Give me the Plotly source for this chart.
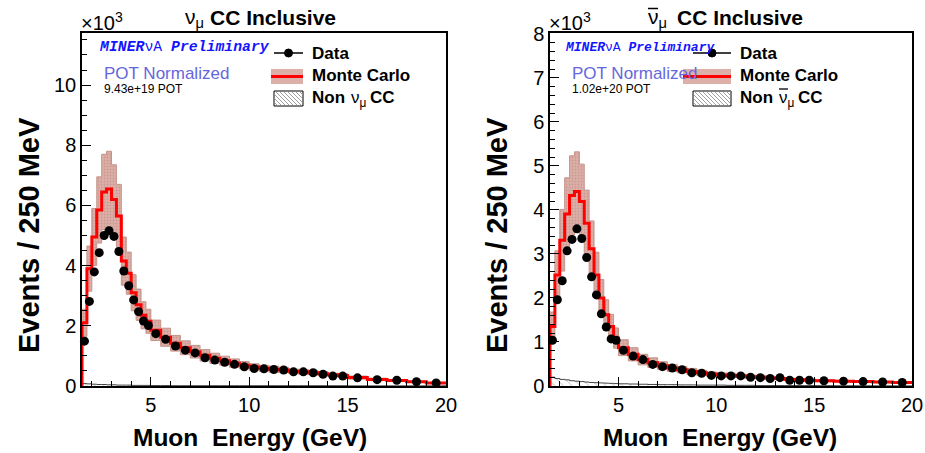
import plotly.graph_objects as go
import numpy as np

W, H = 925, 453
ML, MR, MT, MB = 20, 12, 20, 20   # fixed margins; all positions below are given in page pixels

# ---------------- data (values in units of 10^3 events / 250 MeV) ----------------
bin_edges = [1.5, 1.75, 2.0, 2.25, 2.5, 2.75, 3.0, 3.25, 3.5, 3.75, 4.0, 4.25, 4.5, 4.75, 5.0,
             5.5, 6.0, 6.5, 7.0, 7.5, 8.0, 8.5, 9.0, 9.5, 10.0, 10.5, 11.0, 11.5, 12.0, 12.5,
             13.0, 13.5, 14.0, 14.5, 15.0, 16.0, 17.0, 18.0, 19.0, 20.0]

data_nu = [1.49, 2.81, 3.79, 4.43, 5.00, 5.16, 4.97, 4.47, 3.82, 3.33, 2.86, 2.47, 2.16, 2.01,
           1.74, 1.55, 1.33, 1.19, 1.10, 0.94, 0.86, 0.79, 0.72, 0.64, 0.58, 0.57, 0.55, 0.53,
           0.47, 0.47, 0.44, 0.39, 0.33, 0.33, 0.27, 0.21, 0.19, 0.14, 0.10]
mc_nu = [2.10, 3.90, 4.95, 5.85, 6.45, 6.55, 6.20, 5.65, 4.15, 3.75, 3.10, 2.70, 2.35, 2.15,
         1.85, 1.62, 1.42, 1.27, 1.14, 1.02, 0.92, 0.84, 0.76, 0.69, 0.63, 0.59, 0.56, 0.53,
         0.49, 0.47, 0.44, 0.41, 0.37, 0.35, 0.28, 0.22, 0.18, 0.14, 0.10]
mc_err_nu = [0.45, 0.75, 0.95, 1.10, 1.25, 1.25, 1.15, 1.05, 0.80, 0.70, 0.60, 0.52, 0.45, 0.40,
             0.34, 0.30, 0.26, 0.23, 0.21, 0.19, 0.17, 0.15, 0.14, 0.12, 0.11, 0.10, 0.10, 0.09,
             0.08, 0.08, 0.07, 0.07, 0.06, 0.06, 0.05, 0.04, 0.03, 0.02, 0.02]
bkg_nu = [0.08, 0.07, 0.06, 0.05, 0.05, 0.04, 0.04, 0.03, 0.03, 0.03, 0.02, 0.02, 0.02, 0.02,
          0.015, 0.015, 0.01, 0.01, 0.01, 0.01, 0.01, 0.01, 0.01, 0.01, 0.01, 0.01, 0.01, 0.01,
          0.01, 0.01, 0.01, 0.01, 0.01, 0.01, 0.005, 0.005, 0.005, 0.005, 0.005]

data_nub = [1.04, 1.96, 2.39, 3.07, 3.33, 3.57, 3.35, 2.92, 2.48, 2.07, 1.64, 1.34, 1.07, 1.04,
            0.81, 0.68, 0.60, 0.49, 0.44, 0.41, 0.37, 0.30, 0.29, 0.24, 0.23, 0.23, 0.23, 0.20,
            0.19, 0.17, 0.19, 0.13, 0.13, 0.13, 0.12, 0.11, 0.10, 0.09, 0.08]
mc_nub = [1.35, 2.52, 3.31, 3.91, 4.33, 4.42, 4.19, 3.70, 3.12, 2.52, 2.00, 1.62, 1.35, 1.09,
          0.87, 0.72, 0.60, 0.53, 0.46, 0.41, 0.37, 0.33, 0.30, 0.27, 0.25, 0.24, 0.23, 0.21,
          0.20, 0.18, 0.17, 0.15, 0.14, 0.13, 0.12, 0.11, 0.10, 0.09, 0.08]
mc_err_nub = [0.33, 0.55, 0.70, 0.82, 0.90, 0.90, 0.85, 0.75, 0.63, 0.52, 0.42, 0.34, 0.28, 0.23,
              0.18, 0.15, 0.12, 0.11, 0.09, 0.08, 0.07, 0.07, 0.06, 0.05, 0.05, 0.05, 0.04, 0.04,
              0.04, 0.03, 0.03, 0.03, 0.03, 0.02, 0.02, 0.02, 0.02, 0.01, 0.01]
bkg_nub = [0.20, 0.17, 0.15, 0.14, 0.12, 0.11, 0.10, 0.09, 0.08, 0.075, 0.07, 0.065, 0.06, 0.055,
           0.05, 0.045, 0.04, 0.035, 0.03, 0.03, 0.025, 0.025, 0.02, 0.02, 0.02, 0.015, 0.015, 0.015,
           0.01, 0.01, 0.01, 0.01, 0.01, 0.01, 0.008, 0.006, 0.005, 0.004, 0.003]

panels = [
    dict(data=data_nu, mc=mc_nu, err=mc_err_nu, bkg=bkg_nu, ymax=11.73, dtick=2, minor=0.5,
         xpx=(82, 446), pot="9.43e+19 POT", bar=False,
         nu_x=183, cc_x=208, xt_center=250, mn_size=14.8, mn_x=97,
         leg=dict(l0=274, l1=303, mc0=271, tx=310)),
    dict(data=data_nub, mc=mc_nub, err=mc_err_nub, bkg=bkg_nub, ymax=8.02, dtick=1, minor=0.2,
         xpx=(550, 912), pot="1.02e+20 POT", bar=True,
         nu_x=646, cc_x=675, xt_center=720, mn_size=13, mn_x=563,
         leg=dict(l0=693, l1=731, mc0=683, tx=738)),
]

TOP, BOT = 33, 386
FONT = "Liberation Sans"


def px(x):
    return (x - ML) / (W - ML - MR)


def py(y):
    return 1 - (y - MT) / (H - MT - MB)


edges = np.array(bin_edges)
centers = 0.5 * (edges[:-1] + edges[1:])

BAND_FILL = "#dcb0a8"
BAND_LINE = "#c4948b"

fig = go.Figure()
shapes = []
annotations = []


def ann(text, x, y, size, xanchor="left", color="black", family=FONT, angle=0):
    annotations.append(dict(text=text, x=px(x), y=py(y), xref="paper", yref="paper",
                            xanchor=xanchor, yanchor="middle", showarrow=False,
                            textangle=angle, font=dict(family=family, size=size, color=color)))


def pline(x0, y0, x1, y1, color="black", width=1.5):
    shapes.append(dict(type="line", xref="paper", yref="paper", x0=px(x0), x1=px(x1),
                       y0=py(y0), y1=py(y1), line=dict(color=color, width=width)))


for i, p in enumerate(panels):
    n = "" if i == 0 else str(i + 1)
    xa, ya = "x" + n, "y" + n
    mc = np.array(p["mc"])
    err = np.array(p["err"])
    up, lo = mc + err, mc - err
    sx = np.repeat(edges, 2)[1:-1]
    band_x = np.concatenate([sx, sx[::-1]])
    band_y = np.concatenate([np.repeat(up, 2), np.repeat(lo, 2)[::-1]])
    fig.add_trace(go.Scatter(x=band_x, y=band_y, fill="toself", mode="lines",
                             line=dict(color=BAND_LINE, width=1),
                             fillcolor=BAND_FILL,
                             fillpattern=dict(shape=".", bgcolor=BAND_FILL, fgcolor="#b98278",
                                              size=3, solidity=0.3),
                             xaxis=xa, yaxis=ya, showlegend=False, hoverinfo="skip"))
    # non-CC background, hatched
    bk = list(p["bkg"])
    fig.add_trace(go.Scatter(x=list(edges), y=bk + [bk[-1]], mode="lines", line_shape="hv",
                             fill="tozeroy", fillcolor="rgba(0,0,0,0)",
                             fillpattern=dict(shape="\\", fgcolor="#777777", bgcolor="white",
                                              size=6, solidity=0.15),
                             line=dict(color="#444444", width=1),
                             xaxis=xa, yaxis=ya, showlegend=False, hoverinfo="skip"))
    # MC red step line
    mcl = list(p["mc"])
    fig.add_trace(go.Scatter(x=[edges[0]] + list(edges), y=[0] + mcl + [mcl[-1]], mode="lines",
                             line_shape="hv", line=dict(color="#ff0000", width=3),
                             xaxis=xa, yaxis=ya, showlegend=False, hoverinfo="skip"))
    # data
    fig.add_trace(go.Scatter(x=centers, y=p["data"], mode="markers",
                             marker=dict(color="black", size=9),
                             cliponaxis=False,
                             xaxis=xa, yaxis=ya, showlegend=False))

    x0, x1 = p["xpx"]
    common = dict(showline=True, linecolor="black", linewidth=1.5, mirror=True, ticks="inside",
                  showgrid=False, zeroline=False, tickcolor="black", tickwidth=1, ticklen=9,
                  automargin=False,
                  tickfont=dict(family=FONT, size=20, color="black"))
    fig.update_layout(**{
        "xaxis" + n: dict(domain=[px(x0), px(x1)], range=[1.5, 20], tickmode="linear", tick0=0,
                          dtick=5, anchor=ya,
                          minor=dict(ticks="inside", dtick=1, tick0=0, ticklen=5, tickcolor="black",
                                     showgrid=False), **common),
        "yaxis" + n: dict(domain=[py(BOT), py(TOP)], range=[0, p["ymax"]], tickmode="linear",
                          tick0=0, dtick=p["dtick"], anchor=xa,
                          minor=dict(ticks="inside", dtick=p["minor"], tick0=0, ticklen=5,
                                     tickcolor="black", showgrid=False), **common),
    })

    # texts
    ann("×10<sup>3</sup>", x0 - 3, 21, 20)
    ann("ν<sub>μ</sub>", p["nu_x"], 18, 21)
    ann("<b>CC Inclusive</b>", p["cc_x"], 17.5, 21)
    if p["bar"]:
        pline(p["nu_x"] + 2, 8.5, p["nu_x"] + 12, 8.5, width=1.5)
    ann("<b><i>MINER</i></b>νA <b><i>Preliminary</i></b>", p["mn_x"], 47, p["mn_size"],
        color="#1414ff", family="Liberation Mono")
    ann("POT Normalized", x0 + 20, 73, 17, color="#6666dd")
    ann(p["pot"], x0 + 20, 89, 12)
    ann("<b>Events / 250 MeV</b>", x0 - 53, 235, 29, xanchor="center", angle=-90)
    ann("<b>Muon  Energy (GeV)</b>", p["xt_center"], 437, 24.5, xanchor="center")

    # legend
    lg = p["leg"]
    lx0, lx1, tx, mcx0 = lg["l0"], lg["l1"], lg["tx"], lg["mc0"]
    # Data
    pline(lx0, 53, lx1, 53, width=1.5)
    cx = (lx0 + lx1) / 2
    shapes.append(dict(type="circle", xref="paper", yref="paper", x0=px(cx - 4), x1=px(cx + 4),
                       y0=py(57), y1=py(49), fillcolor="black", line=dict(color="black", width=1)))
    ann("<b>Data</b>", tx, 54, 17)
    # MC
    shapes.append(dict(type="rect", xref="paper", yref="paper", x0=px(mcx0), x1=px(lx1),
                       y0=py(84), y1=py(69), fillcolor=BAND_FILL, line=dict(width=0)))
    pline(mcx0, 76.5, lx1, 76.5, color="#ff0000", width=3)
    ann("<b>Monte Carlo</b>", tx, 76, 17)
    # Non CC hatched box
    bx0, bx1, by0, by1 = lx0, lx1, 91, 106
    shapes.append(dict(type="rect", xref="paper", yref="paper", x0=px(bx0), x1=px(bx1),
                       y0=py(by1), y1=py(by0), fillcolor="white",
                       line=dict(color="black", width=1)))
    path = ""
    c = bx0 - (by1 - by0)
    while c < bx1:
        xa0, ya0 = c, by0
        xb, yb = c + (by1 - by0), by1
        if xa0 < bx0:
            ya0 = by0 + (bx0 - xa0)
            xa0 = bx0
        if xb > bx1:
            yb = by1 - (xb - bx1)
            xb = bx1
        if xb > xa0:
            path += f"M{px(xa0):.5f},{py(ya0):.5f} L{px(xb):.5f},{py(yb):.5f} "
        c += 4
    shapes.append(dict(type="path", xref="paper", yref="paper", path=path,
                       line=dict(color="#888888", width=0.8)))
    ann("<b>Non</b>", tx, 98, 17)
    ann("ν<sub>μ</sub>", tx + 39, 99, 17)
    ann("<b>CC</b>", tx + 58, 98, 17)
    if p["bar"]:
        pline(tx + 41, 89, tx + 50, 89, width=1.3)

fig.update_layout(width=W, height=H, margin=dict(l=ML, r=MR, t=MT, b=MB),
                  paper_bgcolor="white", plot_bgcolor="white",
                  shapes=shapes, annotations=annotations, showlegend=False)

fig.write_html("out.html")
